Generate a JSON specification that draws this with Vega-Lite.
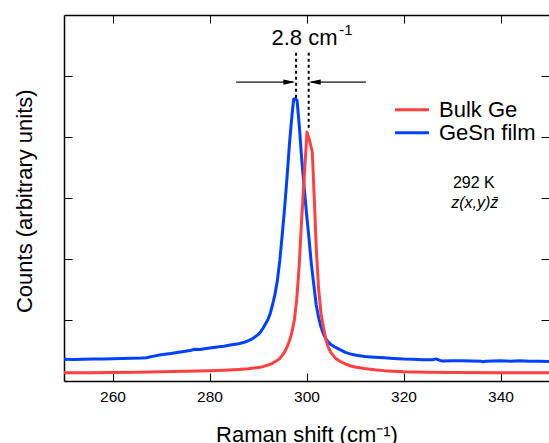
{
  "$schema": "https://vega.github.io/schema/vega-lite/v6.json",
  "width": 485,
  "height": 366,
  "autosize": {"type": "none"},
  "padding": {"left": 64, "top": 15, "right": 0, "bottom": 62},
  "background": "white",
  "config": {
    "view": {"stroke": null},
    "font": "Liberation Sans",
    "axis": {
      "domainColor": "black",
      "domainWidth": 1.5,
      "tickColor": "black",
      "tickWidth": 1,
      "grid": false,
      "labelFont": "Liberation Sans",
      "titleFont": "Liberation Sans",
      "labelColor": "black",
      "titleColor": "black",
      "titleFontWeight": "normal"
    }
  },
  "datasets": {
    "spectra": [
      {"shift": 250, "counts": 0.355, "sample": "GeSn film"},
      {"shift": 252, "counts": 0.352, "sample": "GeSn film"},
      {"shift": 254, "counts": 0.358, "sample": "GeSn film"},
      {"shift": 256, "counts": 0.36, "sample": "GeSn film"},
      {"shift": 258, "counts": 0.362, "sample": "GeSn film"},
      {"shift": 260, "counts": 0.366, "sample": "GeSn film"},
      {"shift": 262, "counts": 0.368, "sample": "GeSn film"},
      {"shift": 264, "counts": 0.372, "sample": "GeSn film"},
      {"shift": 266, "counts": 0.376, "sample": "GeSn film"},
      {"shift": 267, "counts": 0.38, "sample": "GeSn film"},
      {"shift": 268, "counts": 0.4, "sample": "GeSn film"},
      {"shift": 270, "counts": 0.43, "sample": "GeSn film"},
      {"shift": 272, "counts": 0.45, "sample": "GeSn film"},
      {"shift": 274, "counts": 0.475, "sample": "GeSn film"},
      {"shift": 276, "counts": 0.5, "sample": "GeSn film"},
      {"shift": 277, "counts": 0.52, "sample": "GeSn film"},
      {"shift": 278, "counts": 0.515, "sample": "GeSn film"},
      {"shift": 280, "counts": 0.54, "sample": "GeSn film"},
      {"shift": 282, "counts": 0.56, "sample": "GeSn film"},
      {"shift": 283, "counts": 0.57, "sample": "GeSn film"},
      {"shift": 284, "counts": 0.585, "sample": "GeSn film"},
      {"shift": 286, "counts": 0.61, "sample": "GeSn film"},
      {"shift": 287, "counts": 0.63, "sample": "GeSn film"},
      {"shift": 288, "counts": 0.66, "sample": "GeSn film"},
      {"shift": 289, "counts": 0.7, "sample": "GeSn film"},
      {"shift": 290, "counts": 0.76, "sample": "GeSn film"},
      {"shift": 290.5, "counts": 0.8, "sample": "GeSn film"},
      {"shift": 291, "counts": 0.86, "sample": "GeSn film"},
      {"shift": 291.5, "counts": 0.93, "sample": "GeSn film"},
      {"shift": 292, "counts": 1.0, "sample": "GeSn film"},
      {"shift": 292.5, "counts": 1.1, "sample": "GeSn film"},
      {"shift": 293, "counts": 1.25, "sample": "GeSn film"},
      {"shift": 293.5, "counts": 1.42, "sample": "GeSn film"},
      {"shift": 294, "counts": 1.65, "sample": "GeSn film"},
      {"shift": 294.5, "counts": 1.98, "sample": "GeSn film"},
      {"shift": 295, "counts": 2.4, "sample": "GeSn film"},
      {"shift": 295.5, "counts": 2.85, "sample": "GeSn film"},
      {"shift": 296, "counts": 3.35, "sample": "GeSn film"},
      {"shift": 296.5, "counts": 3.9, "sample": "GeSn film"},
      {"shift": 297, "counts": 4.35, "sample": "GeSn film"},
      {"shift": 297.35, "counts": 4.62, "sample": "GeSn film"},
      {"shift": 297.7, "counts": 4.63, "sample": "GeSn film"},
      {"shift": 298.05, "counts": 4.6, "sample": "GeSn film"},
      {"shift": 298.5, "counts": 4.2, "sample": "GeSn film"},
      {"shift": 299, "counts": 3.65, "sample": "GeSn film"},
      {"shift": 299.5, "counts": 3.2, "sample": "GeSn film"},
      {"shift": 300, "counts": 2.75, "sample": "GeSn film"},
      {"shift": 300.5, "counts": 2.35, "sample": "GeSn film"},
      {"shift": 301, "counts": 1.92, "sample": "GeSn film"},
      {"shift": 301.5, "counts": 1.58, "sample": "GeSn film"},
      {"shift": 302, "counts": 1.25, "sample": "GeSn film"},
      {"shift": 302.5, "counts": 1.04, "sample": "GeSn film"},
      {"shift": 303, "counts": 0.88, "sample": "GeSn film"},
      {"shift": 303.5, "counts": 0.77, "sample": "GeSn film"},
      {"shift": 304, "counts": 0.69, "sample": "GeSn film"},
      {"shift": 304.5, "counts": 0.64, "sample": "GeSn film"},
      {"shift": 305, "counts": 0.6, "sample": "GeSn film"},
      {"shift": 306, "counts": 0.55, "sample": "GeSn film"},
      {"shift": 307, "counts": 0.51, "sample": "GeSn film"},
      {"shift": 308, "counts": 0.47, "sample": "GeSn film"},
      {"shift": 309, "counts": 0.445, "sample": "GeSn film"},
      {"shift": 310, "counts": 0.425, "sample": "GeSn film"},
      {"shift": 312, "counts": 0.4, "sample": "GeSn film"},
      {"shift": 314, "counts": 0.39, "sample": "GeSn film"},
      {"shift": 316, "counts": 0.38, "sample": "GeSn film"},
      {"shift": 318, "counts": 0.37, "sample": "GeSn film"},
      {"shift": 320, "counts": 0.36, "sample": "GeSn film"},
      {"shift": 322, "counts": 0.355, "sample": "GeSn film"},
      {"shift": 324, "counts": 0.35, "sample": "GeSn film"},
      {"shift": 326, "counts": 0.348, "sample": "GeSn film"},
      {"shift": 326.7, "counts": 0.362, "sample": "GeSn film"},
      {"shift": 327.5, "counts": 0.338, "sample": "GeSn film"},
      {"shift": 328, "counts": 0.328, "sample": "GeSn film"},
      {"shift": 330, "counts": 0.33, "sample": "GeSn film"},
      {"shift": 332, "counts": 0.33, "sample": "GeSn film"},
      {"shift": 334, "counts": 0.326, "sample": "GeSn film"},
      {"shift": 336, "counts": 0.322, "sample": "GeSn film"},
      {"shift": 336.5, "counts": 0.316, "sample": "GeSn film"},
      {"shift": 337, "counts": 0.325, "sample": "GeSn film"},
      {"shift": 340, "counts": 0.33, "sample": "GeSn film"},
      {"shift": 342, "counts": 0.325, "sample": "GeSn film"},
      {"shift": 344, "counts": 0.33, "sample": "GeSn film"},
      {"shift": 346, "counts": 0.322, "sample": "GeSn film"},
      {"shift": 348, "counts": 0.322, "sample": "GeSn film"},
      {"shift": 350, "counts": 0.32, "sample": "GeSn film"},
      {"shift": 250, "counts": 0.136, "sample": "Bulk Ge"},
      {"shift": 255, "counts": 0.137, "sample": "Bulk Ge"},
      {"shift": 260, "counts": 0.14, "sample": "Bulk Ge"},
      {"shift": 265, "counts": 0.145, "sample": "Bulk Ge"},
      {"shift": 270, "counts": 0.15, "sample": "Bulk Ge"},
      {"shift": 275, "counts": 0.16, "sample": "Bulk Ge"},
      {"shift": 280, "counts": 0.17, "sample": "Bulk Ge"},
      {"shift": 283, "counts": 0.178, "sample": "Bulk Ge"},
      {"shift": 286, "counts": 0.19, "sample": "Bulk Ge"},
      {"shift": 288, "counts": 0.2, "sample": "Bulk Ge"},
      {"shift": 290, "counts": 0.22, "sample": "Bulk Ge"},
      {"shift": 291, "counts": 0.235, "sample": "Bulk Ge"},
      {"shift": 292, "counts": 0.26, "sample": "Bulk Ge"},
      {"shift": 293, "counts": 0.29, "sample": "Bulk Ge"},
      {"shift": 294, "counts": 0.34, "sample": "Bulk Ge"},
      {"shift": 294.5, "counts": 0.37, "sample": "Bulk Ge"},
      {"shift": 295, "counts": 0.42, "sample": "Bulk Ge"},
      {"shift": 295.5, "counts": 0.48, "sample": "Bulk Ge"},
      {"shift": 296, "counts": 0.56, "sample": "Bulk Ge"},
      {"shift": 296.5, "counts": 0.66, "sample": "Bulk Ge"},
      {"shift": 297, "counts": 0.8, "sample": "Bulk Ge"},
      {"shift": 297.5, "counts": 1.0, "sample": "Bulk Ge"},
      {"shift": 298, "counts": 1.35, "sample": "Bulk Ge"},
      {"shift": 298.5, "counts": 1.9, "sample": "Bulk Ge"},
      {"shift": 299, "counts": 2.65, "sample": "Bulk Ge"},
      {"shift": 299.5, "counts": 3.3, "sample": "Bulk Ge"},
      {"shift": 300.1, "counts": 4.08, "sample": "Bulk Ge"},
      {"shift": 300.6, "counts": 3.95, "sample": "Bulk Ge"},
      {"shift": 301.2, "counts": 3.75, "sample": "Bulk Ge"},
      {"shift": 301.6, "counts": 3.0, "sample": "Bulk Ge"},
      {"shift": 302, "counts": 2.2, "sample": "Bulk Ge"},
      {"shift": 302.5, "counts": 1.5, "sample": "Bulk Ge"},
      {"shift": 303, "counts": 1.1, "sample": "Bulk Ge"},
      {"shift": 303.5, "counts": 0.88, "sample": "Bulk Ge"},
      {"shift": 304, "counts": 0.68, "sample": "Bulk Ge"},
      {"shift": 304.5, "counts": 0.55, "sample": "Bulk Ge"},
      {"shift": 305, "counts": 0.47, "sample": "Bulk Ge"},
      {"shift": 305.5, "counts": 0.42, "sample": "Bulk Ge"},
      {"shift": 306, "counts": 0.37, "sample": "Bulk Ge"},
      {"shift": 307, "counts": 0.32, "sample": "Bulk Ge"},
      {"shift": 308, "counts": 0.28, "sample": "Bulk Ge"},
      {"shift": 309, "counts": 0.25, "sample": "Bulk Ge"},
      {"shift": 310, "counts": 0.23, "sample": "Bulk Ge"},
      {"shift": 312, "counts": 0.205, "sample": "Bulk Ge"},
      {"shift": 314, "counts": 0.185, "sample": "Bulk Ge"},
      {"shift": 316, "counts": 0.17, "sample": "Bulk Ge"},
      {"shift": 318, "counts": 0.16, "sample": "Bulk Ge"},
      {"shift": 320, "counts": 0.152, "sample": "Bulk Ge"},
      {"shift": 325, "counts": 0.145, "sample": "Bulk Ge"},
      {"shift": 330, "counts": 0.14, "sample": "Bulk Ge"},
      {"shift": 340, "counts": 0.137, "sample": "Bulk Ge"},
      {"shift": 350, "counts": 0.136, "sample": "Bulk Ge"}
    ],
    "peaks": [
      {"shift": 297.85, "top": 5.38, "bottom": 4.64},
      {"shift": 300.45, "top": 5.38, "bottom": 4.12}
    ],
    "arrows": [
      {"shift": 285.5, "end": 297.2, "level": 4.9},
      {"shift": 312.25, "end": 301.0, "level": 4.9}
    ],
    "heads": [
      {"shift": 297.7, "level": 4.9, "dir": "right"},
      {"shift": 300.45, "level": 4.9, "dir": "left"}
    ]
  },
  "layer": [
    {
      "data": {"name": "spectra"},
      "mark": {"type": "line", "strokeWidth": 3, "strokeJoin": "round"},
      "encoding": {
        "x": {
          "field": "shift", "type": "quantitative",
          "scale": {"domain": [250, 350], "nice": false, "zero": false},
          "axis": {
            "orient": "bottom",
            "values": [260, 280, 300, 320, 340],
            "tickSize": -8,
            "labelPadding": 16,
            "labelFontSize": 15.5,
            "title": "Raman shift (cm⁻¹)",
            "titleFontSize": 22,
            "titleBaseline": "alphabetic",
            "titleY": 60
          }
        },
        "y": {
          "field": "counts", "type": "quantitative",
          "scale": {"domain": [0, 6], "nice": false, "zero": false},
          "axis": {
            "orient": "left",
            "values": [1, 2, 3, 4, 5],
            "tickSize": -8,
            "labels": false,
            "title": "Counts (arbitrary units)",
            "titleFontSize": 22,
            "titleBaseline": "alphabetic",
            "titleX": -32.5,
            "titleY": 185.7
          }
        },
        "color": {
          "field": "sample", "type": "nominal",
          "scale": {"domain": ["Bulk Ge", "GeSn film"], "range": ["#ff4040", "#0040ff"]},
          "legend": {
            "orient": "none",
            "legendX": 329.5,
            "legendY": 84,
            "title": null,
            "padding": 0,
            "rowPadding": 0,
            "symbolType": "stroke",
            "symbolSize": 1156,
            "symbolStrokeWidth": 3,
            "clipHeight": 21.7,
            "labelFontSize": 22,
            "labelFont": "Liberation Sans",
            "labelColor": "black",
            "labelOffset": 8.5
          }
        }
      }
    },
    {
      "data": {"name": "peaks"},
      "mark": {"type": "rule", "strokeDash": [3, 3], "strokeWidth": 2, "color": "black"},
      "encoding": {
        "x": {
          "field": "shift", "type": "quantitative",
          "axis": {"orient": "top", "values": [260, 280, 300, 320, 340], "tickSize": -8, "labels": false, "title": null}
        },
        "y": {
          "field": "top", "type": "quantitative",
          "axis": {"orient": "right", "values": [1, 2, 3, 4, 5], "tickSize": -8, "labels": false, "title": null, "domain": false}
        },
        "y2": {"field": "bottom"}
      }
    },
    {
      "data": {"name": "arrows"},
      "mark": {"type": "rule", "strokeWidth": 1.8, "color": "#555555"},
      "encoding": {
        "x": {"field": "shift", "type": "quantitative", "axis": null},
        "x2": {"field": "end"},
        "y": {"field": "level", "type": "quantitative", "axis": null}
      }
    },
    {
      "data": {"name": "heads"},
      "mark": {"type": "point", "filled": true, "opacity": 1, "size": 144, "color": "black"},
      "encoding": {
        "x": {"field": "shift", "type": "quantitative", "axis": null},
        "y": {"field": "level", "type": "quantitative", "axis": null},
        "shape": {
          "field": "dir", "type": "nominal",
          "scale": {"domain": ["right", "left"], "range": ["M0,0L-2,-0.45L-2,0.45Z", "M0,0L2,-0.45L2,0.45Z"]},
          "legend": null
        }
      }
    },
    {
      "data": {"values": [{"shift": 306.4, "level": 5.508, "label": "2.8 cm"}]},
      "mark": {"type": "text", "align": "right", "baseline": "alphabetic", "fontSize": 22, "font": "Liberation Sans", "color": "black"},
      "encoding": {
        "x": {"field": "shift", "type": "quantitative", "axis": null},
        "y": {"field": "level", "type": "quantitative", "axis": null},
        "text": {"field": "label"}
      }
    },
    {
      "data": {"values": [{"shift": 306.76, "level": 5.672, "label": "-1"}]},
      "mark": {"type": "text", "align": "left", "baseline": "alphabetic", "fontSize": 15, "font": "Liberation Sans", "color": "black"},
      "encoding": {
        "x": {"field": "shift", "type": "quantitative", "axis": null},
        "y": {"field": "level", "type": "quantitative", "axis": null},
        "text": {"field": "label"}
      }
    },
    {
      "data": {"values": [{"shift": 334.5, "level": 3.156, "label": "292 K"}]},
      "mark": {"type": "text", "align": "center", "baseline": "alphabetic", "fontSize": 16, "font": "Liberation Sans", "color": "black"},
      "encoding": {
        "x": {"field": "shift", "type": "quantitative", "axis": null},
        "y": {"field": "level", "type": "quantitative", "axis": null},
        "text": {"field": "label"}
      }
    },
    {
      "data": {"values": [{"shift": 334.7, "level": 2.841, "label": "z(x,y)z̄"}]},
      "mark": {"type": "text", "align": "center", "baseline": "alphabetic", "fontSize": 16, "fontStyle": "italic", "font": "Liberation Sans", "color": "black"},
      "encoding": {
        "x": {"field": "shift", "type": "quantitative", "axis": null},
        "y": {"field": "level", "type": "quantitative", "axis": null},
        "text": {"field": "label"}
      }
    }
  ],
  "resolve": {"axis": {"x": "independent", "y": "independent"}}
}
